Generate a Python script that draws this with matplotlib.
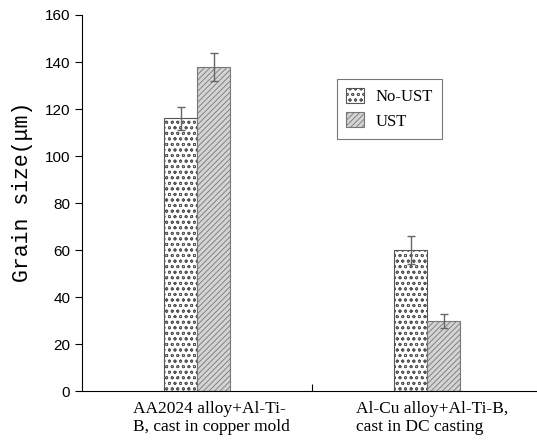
import numpy as np
import matplotlib.pyplot as plt
from matplotlib.transforms import ScaledTranslation

categories = ["AA2024 alloy+Al-Ti-\nB, cast in copper mold",
              "Al-Cu alloy+Al-Ti-B,\ncast in DC casting"]
no_ust = [116, 60]
no_ust_err = [5, 6]
ust = [138, 30]
ust_err = [6, 3]
yticks = [0, 20, 40, 60, 80, 100, 120, 140, 160]

plt.rcParams['hatch.linewidth'] = 0.6

fig = plt.figure(figsize=(5.37, 4.41), dpi=100)
ax = fig.add_axes([0.153, 0.113, 0.857, 0.853])

x = np.arange(len(categories))
w = 0.143
ax.bar(x - w / 2, no_ust, w, yerr=no_ust_err, color='white', edgecolor='#555555',
       hatch='ooo', linewidth=0.8, error_kw=dict(ecolor='#666666', capsize=3, elinewidth=1),
       label='No-UST')
ax.bar(x + w / 2, ust, w, yerr=ust_err, color='#d4d4d4', edgecolor='#777777',
       hatch='//////', linewidth=0.8, error_kw=dict(ecolor='#666666', capsize=3, elinewidth=1),
       label='UST')

ax.set_xlim(-0.5, 1.5)
ax.set_ylim(0, 160)
ax.set_yticks(yticks)
ax.tick_params(axis='y', direction='out', length=5, labelsize=11)
for t in ax.get_yticklabels():
    t.set_family('Liberation Sans')

# middle separator tick pointing up
ax.set_xticks([0.5])
ax.set_xticklabels([''])
ax.tick_params(axis='x', which='major', direction='in', length=5)
ax.set_xticks(x, minor=True)
labels = ax.set_xticklabels(categories, minor=True, family='Liberation Serif', fontsize=12.5,
                            linespacing=1.2, multialignment='left')
ax.tick_params(axis='x', which='minor', length=0, pad=7)
for lab, dx in zip(labels, [0.14, 0.05]):
    lab.set_transform(lab.get_transform() + ScaledTranslation(dx, 0, fig.dpi_scale_trans))

ax.spines['top'].set_visible(False)
ax.spines['right'].set_visible(False)

ax.set_ylabel('Grain size(μm)', family='Liberation Mono', fontsize=15.5)
ax.yaxis.set_label_coords(-0.107, 0.53)

leg = ax.legend(loc='upper left', bbox_to_anchor=(0.553, 0.831), frameon=True,
                fancybox=False, edgecolor='#555555', prop={'family': 'Liberation Serif', 'size': 12},
                handlelength=1.1, handleheight=1.0, borderpad=0.55, labelspacing=0.45,
                handletextpad=0.7, borderaxespad=0)
leg.get_frame().set_linewidth(0.8)

fig.savefig('out.png', dpi=100)
